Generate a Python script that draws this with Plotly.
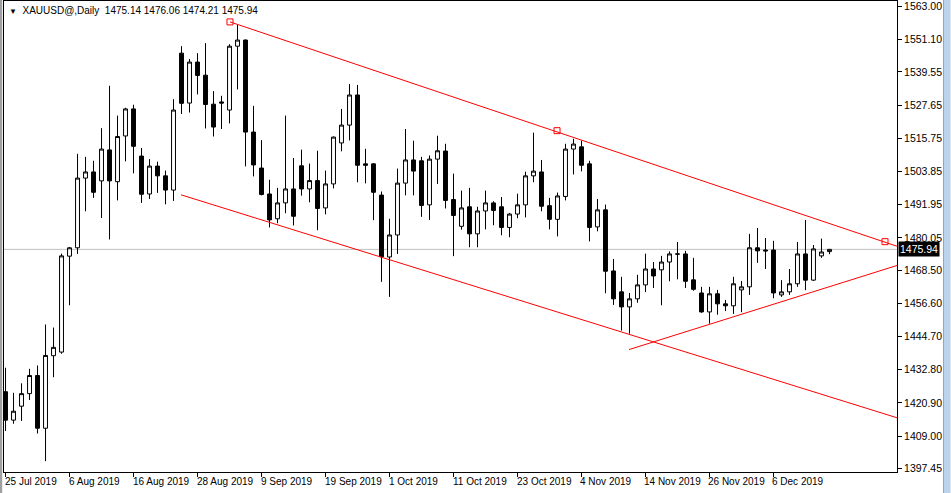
import pandas as pd
import plotly.graph_objects as go

# daily bars, XAUUSD, 25 Jul 2019 - 17 Dec 2019 (weekdays)
dates = pd.bdate_range("2019-07-25", "2019-12-17")

opens = [1424.9, 1414.7, 1419.7, 1424.2, 1430.7, 1411.8, 1437.8, 1439.1, 1473.5, 1476.5,
         1501.5, 1503.7, 1500.5, 1511.6, 1500.2, 1516.6, 1526.3, 1509.4, 1495.8, 1505.8,
         1502.3, 1497.2, 1546.3, 1528.4, 1543.1, 1538.4, 1528.0, 1528.8, 1525.9, 1548.8,
         1551.0, 1518.0, 1505.1, 1495.8, 1486.9, 1492.6, 1497.6, 1505.9, 1497.6, 1500.6,
         1490.8, 1499.4, 1514.1, 1520.5, 1531.3, 1506.6, 1506.6, 1495.4, 1473.2, 1481.1,
         1499.7, 1508.0, 1507.7, 1491.9, 1508.3, 1511.2, 1493.8, 1484.2, 1491.2, 1481.5,
         1489.7, 1492.6, 1491.2, 1483.8, 1488.6, 1491.9, 1502.3, 1503.7, 1491.6, 1486.7,
         1494.9, 1511.9, 1512.7, 1506.6, 1484.0, 1490.1, 1468.2, 1460.7, 1455.3, 1458.2,
         1463.2, 1468.9, 1468.6, 1471.4, 1474.2, 1474.3, 1465.0, 1460.3, 1453.5, 1460.0,
         1456.4, 1455.7, 1461.4, 1462.5, 1476.5, 1475.7, 1475.7, 1459.6, 1460.7, 1463.6,
         1474.3, 1464.9, 1473.6, 1475.14]
highs = [1433.5, 1424.5, 1427.9, 1433.1, 1434.3, 1449.0, 1447.9, 1474.4, 1476.8, 1510.2,
         1509.1, 1507.7, 1519.4, 1534.6, 1523.9, 1526.7, 1527.8, 1512.3, 1508.3, 1507.4,
         1504.2, 1529.8, 1548.8, 1544.2, 1546.3, 1549.9, 1532.7, 1531.0, 1549.5, 1556.4,
         1551.2, 1527.4, 1515.1, 1500.9, 1498.0, 1523.9, 1508.7, 1511.7, 1506.7, 1511.3,
         1504.2, 1516.4, 1526.3, 1535.2, 1534.9, 1512.0, 1506.8, 1496.7, 1486.9, 1504.9,
         1519.1, 1514.9, 1509.1, 1509.6, 1516.7, 1513.8, 1503.1, 1497.0, 1498.0, 1491.2,
         1497.0, 1493.2, 1494.7, 1489.0, 1495.9, 1503.8, 1517.8, 1508.0, 1494.4, 1496.3,
         1513.8, 1515.6, 1514.9, 1507.7, 1494.0, 1492.0, 1472.5, 1466.1, 1460.3, 1466.8,
         1474.4, 1471.4, 1473.6, 1475.2, 1478.6, 1475.4, 1472.9, 1462.5, 1462.5, 1461.4,
         1457.8, 1466.1, 1464.6, 1481.5, 1483.6, 1480.0, 1479.0, 1464.9, 1468.9, 1478.6,
         1486.5, 1477.5, 1479.8, 1476.06]
lows = [1410.8, 1413.4, 1414.4, 1421.9, 1409.9, 1400.0, 1430.1, 1438.5, 1455.9, 1474.3,
        1489.6, 1494.4, 1487.2, 1479.5, 1493.5, 1507.5, 1503.2, 1492.6, 1494.0, 1496.2,
        1492.1, 1493.3, 1524.5, 1525.0, 1531.5, 1519.3, 1516.4, 1519.1, 1521.1, 1533.3,
        1505.7, 1502.1, 1495.3, 1483.8, 1485.3, 1488.9, 1484.5, 1495.2, 1492.8, 1482.8,
        1488.5, 1497.8, 1511.1, 1515.0, 1500.0, 1499.6, 1486.4, 1464.3, 1458.9, 1474.3,
        1495.3, 1495.3, 1487.6, 1486.5, 1499.4, 1490.6, 1473.5, 1483.0, 1476.7, 1476.7,
        1483.1, 1484.6, 1481.0, 1480.3, 1487.1, 1487.4, 1500.0, 1489.6, 1483.1, 1480.6,
        1493.5, 1502.8, 1503.9, 1478.8, 1482.4, 1460.2, 1456.0, 1446.8, 1445.7, 1456.8,
        1460.6, 1462.1, 1455.9, 1464.5, 1465.2, 1462.1, 1461.1, 1453.2, 1449.3, 1452.5,
        1453.8, 1452.8, 1453.4, 1459.6, 1471.1, 1468.9, 1458.4, 1458.9, 1459.6, 1462.5,
        1461.3, 1464.6, 1472.9, 1474.21]
closes = [1414.7, 1417.9, 1424.2, 1430.7, 1411.8, 1437.9, 1440.8, 1473.6, 1476.5, 1501.5,
          1503.7, 1496.4, 1511.9, 1500.5, 1516.4, 1526.3, 1512.9, 1495.7, 1505.8, 1502.3,
          1497.2, 1525.9, 1528.3, 1543.1, 1538.3, 1527.9, 1519.8, 1528.4, 1548.8, 1551.0,
          1518.0, 1506.2, 1495.6, 1486.5, 1492.6, 1497.6, 1487.8, 1497.6, 1500.6, 1490.6,
          1499.4, 1516.2, 1520.5, 1531.3, 1506.1, 1506.1, 1496.4, 1473.3, 1481.1, 1499.7,
          1508.0, 1504.0, 1491.7, 1508.3, 1511.3, 1493.5, 1488.1, 1490.8, 1481.5, 1489.7,
          1492.6, 1489.9, 1483.8, 1488.6, 1491.9, 1502.3, 1504.0, 1491.4, 1486.7, 1495.1,
          1511.9, 1513.7, 1506.1, 1483.8, 1490.1, 1468.1, 1458.2, 1455.3, 1458.2, 1463.2,
          1468.9, 1466.4, 1471.4, 1474.3, 1474.3, 1464.5, 1461.6, 1453.5, 1460.0, 1456.4,
          1455.7, 1463.6, 1462.5, 1476.5, 1475.4, 1475.4, 1460.3, 1460.7, 1463.6, 1474.3,
          1464.9, 1476.1, 1475.0, 1475.94]

last_price = 1475.94

# price scale labels as shown by the terminal
price_ticks = [1563.00, 1551.10, 1539.55, 1527.65, 1515.75, 1503.85, 1491.95, 1480.05,
               1468.50, 1456.60, 1444.70, 1432.80, 1420.90, 1409.00, 1397.45]

# trend lines drawn on the chart (bar index, price)
upper_x = [28.06, 111.6]
upper_y = [1557.5, 1476.9]
upper_marks_x = [28.06, 68.94, 109.94]
upper_marks_y = [1557.5, 1518.5, 1478.7]
lower_x = [21.94, 111.6]
lower_y = [1495.5, 1415.4]
support_x = [77.94, 111.6]
support_y = [1440.0, 1470.3]

idx = list(range(len(dates)))
label_idx = idx[::8]
label_txt = [f"{d.day} {d.strftime('%b %Y')}" for d in dates[::8]]

FONT = "Liberation Sans, Arial, sans-serif"

fig = go.Figure()

fig.add_trace(go.Candlestick(
    x=idx, open=opens, high=highs, low=lows, close=closes,
    increasing=dict(line=dict(color="black", width=1), fillcolor="white"),
    decreasing=dict(line=dict(color="black", width=1), fillcolor="black"),
    whiskerwidth=0, hoverinfo="skip", showlegend=False,
))

red = "#ff0000"
for xs, ys in [(upper_x, upper_y), (lower_x, lower_y), (support_x, support_y)]:
    fig.add_trace(go.Scatter(x=xs, y=ys, mode="lines", line=dict(color=red, width=1),
                             hoverinfo="skip", showlegend=False))
fig.add_trace(go.Scatter(x=upper_marks_x, y=upper_marks_y, mode="markers",
                         marker=dict(symbol="square-open", color=red, size=6,
                                     line=dict(width=1, color=red)),
                         hoverinfo="skip", showlegend=False))

# last price line
fig.add_hline(y=last_price, line=dict(color="#c0c0c0", width=1), layer="below")

fig.add_annotation(x=1, xref="paper", y=last_price, yref="y", text=f"{last_price:.2f}",
                   showarrow=False, xanchor="left", xshift=1,
                   bgcolor="black", font=dict(color="white", size=10.5, family=FONT),
                   borderpad=1)

fig.add_annotation(x=0, xref="paper", y=1, yref="paper", xanchor="left", yanchor="top",
                   xshift=3, yshift=-2, showarrow=False,
                   text="<span style='font-size:8px'>▼</span>\u00a0 XAUUSD@,Daily\u00a0\u00a0"
                        f"{opens[-1]:.2f} {highs[-1]:.2f} {lows[-1]:.2f} {closes[-1]:.2f}",
                   font=dict(color="black", size=10, family=FONT))

# x labels, left-aligned at their tick like the terminal does
for i, t in zip(label_idx, label_txt):
    fig.add_annotation(x=i, xref="x", y=0, yref="paper", xanchor="left", yanchor="top",
                       xshift=-3, yshift=-2, showarrow=False, text=t,
                       font=dict(color="black", size=10, family=FONT))

# window scrollbar strip and left border
fig.add_shape(type="rect", xref="paper", yref="paper", x0=1.0526, x1=1.06, y0=-0.1, y1=1.1,
              fillcolor="#bcd3ec", line=dict(width=0), layer="below")
fig.add_shape(type="rect", xref="paper", yref="paper", x0=1.0515, x1=1.0526, y0=-0.1, y1=1.1,
              fillcolor="#a0a0a0", line=dict(width=0), layer="below")
fig.add_shape(type="rect", xref="paper", yref="paper", x0=-0.0045, x1=-0.002, y0=-0.1, y1=1.1,
              fillcolor="#a0a0a0", line=dict(width=0), layer="below")

fig.update_layout(
    width=951, height=493, autosize=False,
    margin=dict(l=4, r=54, t=1, b=21, autoexpand=False),
    paper_bgcolor="white", plot_bgcolor="white",
    font=dict(family=FONT, size=10.5, color="black"),
    xaxis=dict(range=[-0.19, 111.44], tickvals=label_idx, showticklabels=False,
               ticks="outside", ticklen=4, tickcolor="black", automargin=False,
               showgrid=False, zeroline=False, showline=True, linecolor="black",
               linewidth=1, mirror=True, rangeslider=dict(visible=False), fixedrange=True),
    yaxis=dict(range=[1396.1, 1565.0], side="right", tickvals=price_ticks,
               ticktext=[f"{v:.2f}" for v in price_ticks], automargin=False,
               ticks="outside", ticklen=4, tickcolor="black", tickfont=dict(size=10.5),
               showgrid=False, zeroline=False, showline=True, linecolor="black",
               linewidth=1, mirror=True, fixedrange=True),
)

fig.write_html("out.html", config={"displayModeBar": False},
               post_script="document.body.style.margin='0';document.body.style.overflow='hidden';")
